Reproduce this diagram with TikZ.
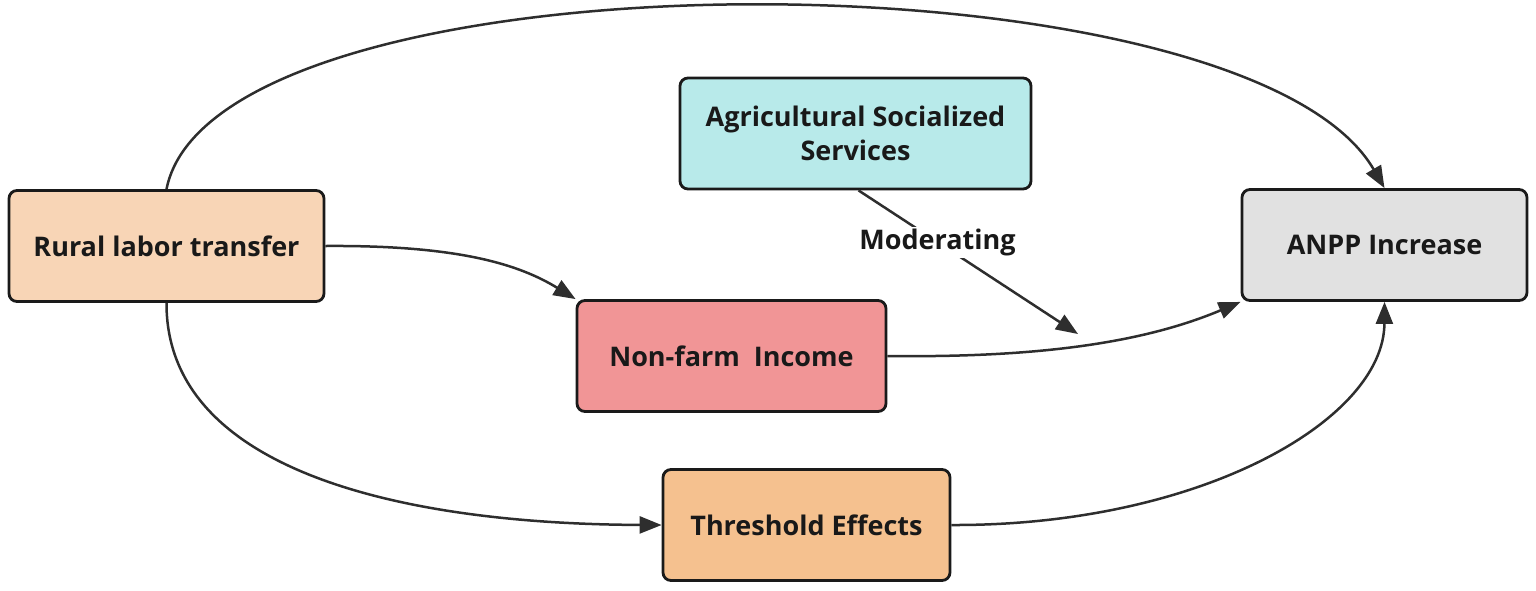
\documentclass[tikz,border=0pt]{standalone}
\usepackage{fontspec}
\setmainfont{Open Sans}
\usetikzlibrary{arrows.meta}
\definecolor{ruralc}{HTML}{F8D5B6}
\definecolor{agric}{HTML}{B8EAEA}
\definecolor{anppc}{HTML}{E1E1E1}
\definecolor{nonfc}{HTML}{F19596}
\definecolor{threc}{HTML}{F5C18F}
\definecolor{edgec}{HTML}{1A1A1A}
\definecolor{arrc}{HTML}{2E2E2E}
\begin{document}
\begin{tikzpicture}[x=0.5pt,y=-0.5pt,
  box/.style={draw=edgec, line width=1.4pt, rounded corners=4pt, minimum height=55.5pt,
     font=\fontsize{13.5}{17}\selectfont\bfseries, text=black!90, align=center, inner sep=2pt},
  link/.style={draw=arrc, line width=1.25pt, -{Triangle[length=11pt,width=8.5pt]}},
  lbl/.style={fill=white, font=\fontsize{13.5}{17}\selectfont\bfseries, text=black!90, inner sep=1pt}]
\useasboundingbox (0,0) rectangle (1536,590);
\node[box, fill=ruralc, minimum width=157.5pt] (rural) at (166.5,246) {Rural labor transfer};
\node[box, fill=agric, minimum width=175.5pt] (agri) at (855.5,133.5) {Agricultural Socialized\\Services};
\node[box, fill=anppc, minimum width=142.5pt] (anpp) at (1384.5,245) {ANPP Increase};
\node[box, fill=nonfc, minimum width=154.5pt] (nonf) at (731.5,356) {Non-farm\ \ Income};
\node[box, fill=threc, minimum width=143.5pt] (thre) at (806.5,525) {Threshold Effects};
\coordinate (modend) at (1078,334);
% connectors
\draw[link] (rural.north) .. controls (215,-54) and (1244,-54) .. (anpp.north);
\draw[link] (rural.east) .. controls (460,245) and (520,265) .. (nonf.north west);
\draw[link] (nonf.east) .. controls (1050,358) and (1150,340) .. (anpp.south west);
\draw[link] (rural.south) .. controls (166,470) and (400,524) .. (thre.west);
\draw[link] (thre.east) .. controls (1200,526) and (1384,420) .. (anpp.south);
\draw[link] ([xshift=1.5pt]agri.south) -- node[lbl, pos=0.36] {Moderating} (modend);
\end{tikzpicture}
\end{document}
